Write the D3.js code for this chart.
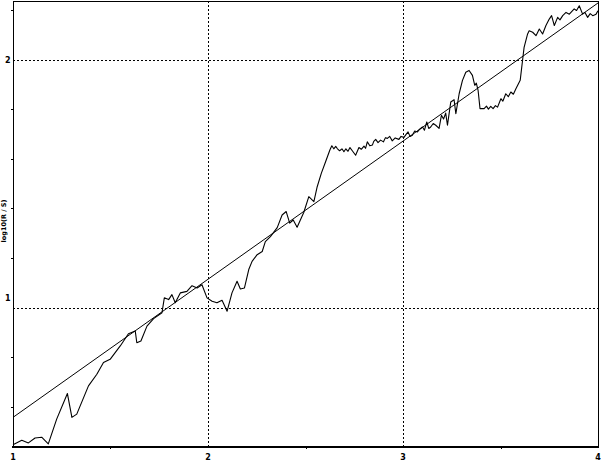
<!DOCTYPE html>
<html><head><meta charset="utf-8">
<script src="https://cdn.jsdelivr.net/npm/d3@7"></script>
<style>html,body{margin:0;padding:0;background:#fff;}svg{display:block;}</style>
</head><body>
<script>
// log10(n)
const logN = [1.000,1.045,1.079,1.113,1.147,1.181,1.224,1.279,1.302,1.327,1.387,1.430,1.464,1.498,1.550,1.592,1.627,1.635,1.656,1.687,1.721,1.764,1.776,1.798,1.815,1.832,1.858,1.892,1.918,1.944,1.969,1.995,2.021,2.046,2.072,2.098,2.123,2.149,2.166,2.187,2.209,2.226,2.252,2.278,2.294,2.320,2.355,2.380,2.401,2.419,2.437,2.457,2.491,2.517,2.543,2.560,2.581,2.603,2.625,2.635,2.645,2.655,2.663,2.675,2.687,2.697,2.707,2.718,2.728,2.740,2.757,2.774,2.786,2.800,2.808,2.817,2.830,2.843,2.850,2.860,2.872,2.885,2.900,2.910,2.920,2.932,2.945,2.960,2.979,2.990,3.005,3.015,3.026,3.036,3.048,3.060,3.074,3.087,3.100,3.110,3.122,3.132,3.142,3.155,3.168,3.185,3.197,3.208,3.219,3.228,3.245,3.262,3.271,3.288,3.305,3.322,3.339,3.356,3.368,3.376,3.385,3.395,3.416,3.428,3.438,3.450,3.462,3.474,3.485,3.502,3.512,3.527,3.540,3.553,3.566,3.579,3.601,3.613,3.621,3.639,3.647,3.665,3.682,3.699,3.716,3.733,3.750,3.762,3.776,3.793,3.805,3.819,3.836,3.853,3.878,3.890,3.904,3.921,3.933,3.947,3.960,3.973,3.990,4.000];
// log10(R/S)
const logRS = [0.447,0.465,0.454,0.474,0.477,0.450,0.550,0.653,0.557,0.570,0.684,0.731,0.778,0.791,0.845,0.894,0.905,0.858,0.865,0.925,0.955,0.979,1.039,1.032,1.052,1.019,1.059,1.065,1.088,1.079,1.092,1.039,1.025,1.019,1.029,0.985,1.059,1.106,1.075,1.079,1.153,1.186,1.213,1.226,1.266,1.286,1.322,1.373,1.387,1.340,1.353,1.324,1.383,1.447,1.427,1.487,1.541,1.588,1.635,1.652,1.640,1.650,1.641,1.632,1.640,1.628,1.640,1.630,1.645,1.632,1.614,1.645,1.638,1.651,1.642,1.668,1.652,1.655,1.670,1.678,1.665,1.675,1.668,1.685,1.682,1.690,1.672,1.684,1.678,1.690,1.686,1.697,1.708,1.690,1.695,1.712,1.708,1.720,1.728,1.715,1.748,1.722,1.728,1.742,1.735,1.722,1.775,1.760,1.784,1.735,1.829,1.838,1.782,1.862,1.916,1.949,1.956,1.936,1.896,1.905,1.876,1.802,1.802,1.812,1.800,1.811,1.802,1.814,1.808,1.842,1.832,1.862,1.850,1.869,1.860,1.882,1.916,1.996,2.049,2.103,2.116,2.110,2.096,2.123,2.103,2.137,2.163,2.177,2.137,2.170,2.160,2.177,2.190,2.183,2.204,2.198,2.217,2.183,2.190,2.170,2.185,2.177,2.183,2.197];
// fitted line: log10(R/S) = intercept + slope * (log10(n) - 1)
const fitSlope = 0.557;
const fitIntercept = 0.557;
const xMajor = [1, 2, 3, 4];
const xMinor = [1.5, 2.5, 3.5];
const yMajor = [1, 2];
const yMinor = [0.6, 0.8, 1.2, 1.4, 1.6, 1.8, 2.2];
const yLabel = "log10(R / S)";

const W = 601, H = 462;
const L = 13, R = 598, T = 1, B = 447;
const svg = d3.select("body").append("svg").attr("width", W).attr("height", H);
const x = d3.scaleLinear().domain([1, 4]).range([L, R]);
const y = d3.scaleLinear().domain([0.4375, 2.236]).range([B, T]);

// grid
const g = svg.append("g").attr("stroke", "#000").attr("stroke-dasharray", "2,2").attr("stroke-width", 1);
xMajor.filter(v => v > 1 && v < 4).forEach(v => {
  const px = Math.round(x(v)) + 0.5;
  g.append("line").attr("x1", px).attr("x2", px).attr("y1", T).attr("y2", B);
});
yMajor.forEach(v => {
  const py = Math.round(y(v)) + 0.5;
  g.append("line").attr("x1", L).attr("x2", R).attr("y1", py).attr("y2", py);
});

// series
const pts = logN.map((v, i) => [v, logRS[i]]);
svg.append("path").datum(pts)
  .attr("fill", "none").attr("stroke", "#000").attr("stroke-width", 1.1)
  .attr("stroke-linejoin", "round")
  .attr("d", d3.line().x(d => x(d[0])).y(d => y(d[1])));

// fit line
svg.append("line")
  .attr("x1", x(1)).attr("y1", y(fitIntercept))
  .attr("x2", x(4)).attr("y2", y(fitIntercept + fitSlope * 3))
  .attr("stroke", "#000").attr("stroke-width", 1);

// frame
svg.append("line").attr("x1", L + 0.5).attr("x2", L + 0.5).attr("y1", T).attr("y2", B).attr("stroke", "#000");
svg.append("line").attr("x1", L).attr("x2", R + 1).attr("y1", T + 0.5).attr("y2", T + 0.5).attr("stroke", "#000");
svg.append("line").attr("x1", R + 0.5).attr("x2", R + 0.5).attr("y1", T).attr("y2", B).attr("stroke", "#000");
svg.append("line").attr("x1", L - 1).attr("x2", R + 1).attr("y1", B).attr("y2", B).attr("stroke", "#000").attr("stroke-width", 2);

// minor ticks
xMinor.forEach(v => {
  const px = Math.round(x(v)) + 0.5;
  svg.append("line").attr("x1", px).attr("x2", px).attr("y1", B).attr("y2", B + 2).attr("stroke", "#000");
});
yMinor.forEach(v => {
  const py = Math.round(y(v)) + 0.5;
  svg.append("line").attr("x1", L - 2).attr("x2", L).attr("y1", py).attr("y2", py).attr("stroke", "#000");
});

// tick labels
const font = "'DejaVu Sans', sans-serif";
xMajor.forEach(v => {
  svg.append("text").attr("x", x(v)).attr("y", 460).attr("text-anchor", "middle")
    .attr("font-family", font).attr("font-size", 8).attr("font-weight", "bold").text(String(v));
});
const yLabelPos = {1: 301, 2: 63};
yMajor.forEach(v => {
  svg.append("text").attr("x", 10.5).attr("y", yLabelPos[v]).attr("text-anchor", "end")
    .attr("font-family", font).attr("font-size", 8).attr("font-weight", "bold").text(String(v));
});

// axis title
svg.append("text").attr("transform", "translate(6,221) rotate(-90)").attr("text-anchor", "middle")
  .attr("font-family", font).attr("font-size", 6.5).attr("font-weight", "bold").text(yLabel);
</script>
</body></html>
